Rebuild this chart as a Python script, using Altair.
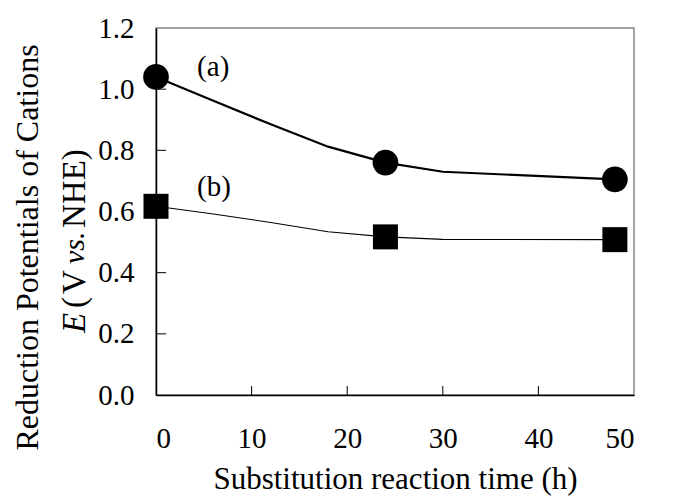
import altair as alt
import pandas as pd

# Measured points
hours = [0, 24, 48]
e_a = [1.04, 0.76, 0.705]
e_b = [0.617, 0.517, 0.508]

# Curve vertices
curve_hours = [0, 6, 12, 18, 24, 30, 48]
curve_a = [1.04, 0.962, 0.885, 0.812, 0.76, 0.73, 0.705]
curve_b = [0.617, 0.592, 0.564, 0.534, 0.517, 0.509, 0.508]

x_ticks = [10, 20, 30, 40]
y_ticks = [0.2, 0.4, 0.6, 0.8, 1.0]

label_text = ["(a)", "(b)"]
label_x = [4.3, 4.3]
label_y = [1.072, 0.68]

FONT = "Liberation Serif"
W, H = 478, 367

pts_a = pd.DataFrame({"t": hours, "E": e_a})
pts_b = pd.DataFrame({"t": hours, "E": e_b})
crv_a = pd.DataFrame({"t": curve_hours, "E": curve_a})
crv_b = pd.DataFrame({"t": curve_hours, "E": curve_b})
labels = pd.DataFrame({"t": label_x, "E": label_y, "txt": label_text})

xs = alt.Scale(domain=[0, 50], nice=False)
ys = alt.Scale(domain=[0, 1.2], nice=False)

xenc = alt.X("t:Q", scale=xs, axis=alt.Axis(
    values=[0, 10, 20, 30, 40, 50], title="Substitution reaction time (h)",
    ticks=False, labelPadding=29, titlePadding=11, titleFontSize=31, format="d"))
yenc = alt.Y("E:Q", scale=ys, axis=alt.Axis(
    values=[0, 0.2, 0.4, 0.6, 0.8, 1.0, 1.2], format=".1f",
    title="Reduction Potentials of Cations", ticks=False, labelPadding=22,
    titleX=-129, titleY=219, titleAngle=270, titleAlign="center",
    titleBaseline="middle"))

line_a = alt.Chart(crv_a).mark_line(color="black", strokeWidth=2.2).encode(x=xenc, y=yenc)
line_b = alt.Chart(crv_b).mark_line(color="black", strokeWidth=1.1).encode(x="t:Q", y="E:Q")
dots_a = alt.Chart(pts_a).mark_point(shape="circle", filled=True, color="black",
                                     size=660, opacity=1).encode(x="t:Q", y="E:Q")
dots_b = alt.Chart(pts_b).mark_point(shape="square", filled=True, color="black",
                                     size=625, opacity=1).encode(x="t:Q", y="E:Q")
lab = alt.Chart(labels).mark_text(font=FONT, fontSize=29, align="left",
                                  baseline="middle", color="black").encode(
    x="t:Q", y="E:Q", text="txt:N")

xt = alt.Chart(pd.DataFrame({"t": x_ticks})).mark_rule(color="black", strokeWidth=1).encode(
    x="t:Q", y=alt.value(H), y2=alt.value(H - 9))
yt = alt.Chart(pd.DataFrame({"E": y_ticks})).mark_rule(color="black", strokeWidth=1).encode(
    y="E:Q", x=alt.value(0), x2=alt.value(10))

# second line of the y title, with italic parts
seg_text = ["E", "(", "V", "vs.", "NHE)"]
seg_style = ["italic", "normal", "normal", "italic", "normal"]
seg_size = [33, 33, 33, 30, 33]
seg_y = [305, 280, 266, 236, 200]
segs = []
for s, st, fs, yy in zip(seg_text, seg_style, seg_size, seg_y):
    segs.append(alt.Chart(pd.DataFrame({"s": [s]})).mark_text(
        font=FONT, fontSize=fs, fontStyle=st, angle=270, align="left",
        baseline="middle", color="black").encode(
        text="s:N", x=alt.value(-81), y=alt.value(yy)))

chart = alt.layer(line_a, line_b, xt, yt, dots_a, dots_b, lab, *segs).properties(
    width=W, height=H,
    autosize=alt.AutoSizeParams(type="none"),
    padding={"left": 148, "top": 20, "right": 30, "bottom": 102},
).configure_view(stroke="#888888", strokeWidth=1.5).configure_axis(
    labelFont=FONT, titleFont=FONT, labelFontSize=29, titleFontSize=32,
    labelColor="black", titleColor="black", titleFontWeight="normal",
    domainColor="black", domainWidth=1.5, grid=False)

chart.save("out.html", embed_options={"renderer": "svg", "actions": False})
